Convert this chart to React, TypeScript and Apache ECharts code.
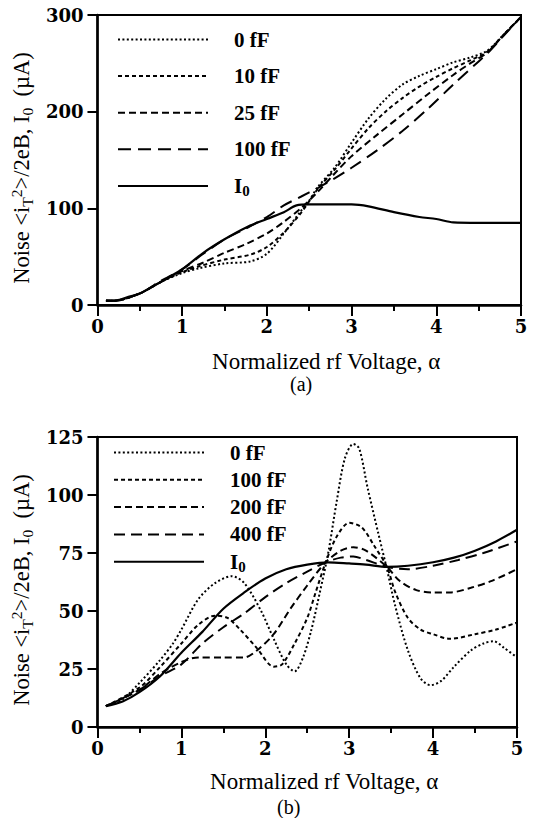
import React, { useEffect, useRef } from "react";
import * as echarts from "echarts";

const FONT = '"Liberation Serif", "Times New Roman", serif';
const TICKFONT = '"DejaVu Serif", "Liberation Serif", serif';

// ---------- Panel (a) ----------
const aLegend = ["0 fF", "10 fF", "25 fF", "100 fF", "I0"];
const aI0: number[][] = [[0.1, 4.5], [0.2, 4.5], [0.35, 8], [0.5, 12], [0.75, 24], [1.0, 37], [1.25, 54], [1.5, 68], [1.75, 80], [2.0, 89], [2.2, 96], [2.35, 103], [2.5, 104], [2.75, 104], [3.0, 104], [3.2, 102], [3.5, 96], [3.8, 91], [4.0, 89], [4.2, 85.5], [4.5, 85], [5.0, 85]];
const a0fF: number[][] = [[0.1, 4.5], [0.2, 4.5], [0.5, 12], [0.75, 24], [1.0, 33], [1.2, 38], [1.5, 43], [1.8, 45], [2.0, 53], [2.2, 74], [2.4, 97], [2.5, 108], [2.6, 122], [2.8, 142], [3.0, 168], [3.2, 193], [3.4, 213], [3.6, 228], [3.8, 237], [4.0, 244], [4.2, 251], [4.4, 256], [4.6, 263], [4.8, 280], [5.0, 298]];
const a10fF: number[][] = [[0.1, 4.5], [0.2, 4.5], [0.5, 12], [0.75, 24], [1.0, 34], [1.2, 40], [1.5, 47], [1.8, 52], [2.0, 60], [2.2, 75], [2.4, 95], [2.6, 120], [2.8, 140], [3.0, 162], [3.2, 183], [3.4, 200], [3.6, 214], [3.8, 226], [4.0, 236], [4.2, 245], [4.4, 253], [4.6, 262], [4.8, 280], [5.0, 298]];
const a25fF: number[][] = [[0.1, 4.5], [0.2, 4.5], [0.5, 12], [0.75, 24], [1.0, 35], [1.25, 44], [1.5, 54], [1.75, 63], [2.0, 74], [2.2, 86], [2.4, 100], [2.6, 117], [2.8, 136], [3.0, 154], [3.3, 176], [3.6, 197], [3.9, 218], [4.2, 238], [4.4, 250], [4.6, 261], [4.8, 280], [5.0, 298]];
const a100fF: number[][] = [[0.1, 4.5], [0.2, 4.5], [0.5, 12], [0.75, 25], [1.0, 37], [1.25, 53], [1.5, 68], [1.75, 79], [2.0, 91], [2.2, 103], [2.4, 112], [2.6, 121], [2.8, 131], [3.0, 142], [3.3, 160], [3.6, 180], [3.9, 203], [4.2, 228], [4.5, 252], [4.6, 260], [4.8, 279], [5.0, 298]];
const aYTicks = { min: 0, max: 300, interval: 100 };

// ---------- Panel (b) ----------
const bLegend = ["0 fF", "100 fF", "200 fF", "400 fF", "I0"];
const bI0: number[][] = [[0.1, 9], [0.3, 11], [0.5, 15], [0.75, 22], [1.0, 32], [1.25, 41], [1.5, 51], [1.75, 58], [2.0, 64], [2.25, 68], [2.5, 70], [2.75, 71], [3.0, 70.5], [3.2, 70], [3.45, 69], [3.7, 69.5], [4.0, 71], [4.25, 73], [4.5, 76], [4.75, 80], [5.0, 85]];
const b0fF: number[][] = [[0.1, 9], [0.3, 12], [0.5, 19], [0.75, 29], [0.9, 36], [1.0, 42], [1.2, 55], [1.4, 62], [1.6, 65], [1.75, 62], [1.95, 50], [2.1, 38], [2.25, 27], [2.35, 24], [2.45, 30], [2.55, 42], [2.65, 58], [2.75, 75], [2.85, 97], [2.95, 116], [3.05, 122], [3.12, 120], [3.22, 103], [3.35, 83], [3.45, 68], [3.55, 52], [3.7, 33], [3.85, 21], [3.97, 18], [4.1, 20], [4.25, 26], [4.45, 33], [4.6, 36], [4.72, 37], [4.85, 34], [5.0, 30]];
const b100fF: number[][] = [[0.1, 9], [0.5, 17], [0.75, 26], [1.0, 36], [1.2, 44], [1.4, 48], [1.55, 47], [1.7, 42], [1.9, 34], [2.1, 26], [2.2, 27], [2.35, 36], [2.5, 47], [2.6, 58], [2.72, 71], [2.85, 82], [3.0, 88], [3.15, 86], [3.3, 78], [3.45, 69], [3.55, 58], [3.7, 47], [3.85, 42], [4.0, 40], [4.2, 38], [4.5, 40], [4.75, 42], [5.0, 45]];
const b200fF: number[][] = [[0.1, 9], [0.5, 16], [0.75, 23], [1.0, 28], [1.2, 30], [1.5, 30], [1.75, 30], [1.9, 33], [2.1, 40], [2.3, 51], [2.5, 61], [2.72, 71], [2.9, 76], [3.05, 77.5], [3.2, 76], [3.45, 69], [3.6, 63], [3.8, 59], [4.0, 58], [4.2, 58], [4.45, 60], [4.7, 63], [5.0, 68]];
const b400fF: number[][] = [[0.1, 9], [0.5, 16], [0.75, 22], [1.0, 27], [1.25, 36], [1.5, 43], [1.75, 49], [2.0, 56], [2.25, 62], [2.5, 67], [2.72, 71], [2.9, 73], [3.05, 73.5], [3.2, 72], [3.45, 69], [3.7, 68], [4.0, 69.5], [4.3, 72], [4.6, 75], [5.0, 80]];
const bYTicks = { min: 0, max: 125, interval: 25 };

const xTicks = { min: 0, max: 5, interval: 1 };
const xTitle = "Normalized rf Voltage, α";
const yTitle = "{n|Noise <i}{sub|T}{sup|2}{n|>/2eB, I}{sub|0}{n|  (µA)}";

const DOT = [2, 2.4];
const SHORT = [4, 3];
const MED = [7, 4];
const LONG = [11, 6];
const XLONG = [13, 7];

function App() {
  const ref = useRef<HTMLDivElement>(null);
  useEffect(() => {
    document.body.style.margin = "0";
    if (!ref.current) return;
    const chart = echarts.init(ref.current, undefined, { renderer: "svg" });

    const mkX = (gi: number, gap: number) => ({
      type: "value",
      gridIndex: gi,
      ...xTicks,
      axisLine: { show: true, onZero: false, lineStyle: { color: "#000", width: 2.5 } },
      axisTick: { show: true, inside: false, length: 11, lineStyle: { color: "#000", width: 2 } },
      minorTick: { show: true, splitNumber: 2, length: 6, lineStyle: { color: "#000", width: 2 } },
      splitLine: { show: false },
      minorSplitLine: { show: false },
      axisLabel: { fontFamily: TICKFONT, fontSize: 18, fontWeight: "bold", color: "#000", margin: 12 },
      name: xTitle,
      nameLocation: "middle",
      nameGap: gap,
      nameTextStyle: { fontFamily: FONT, fontSize: 23, lineHeight: 20, color: "#000", padding: [0, 0, 0, 34] },
    });
    const richY = {
      n: { fontFamily: FONT, fontSize: 22.5, color: "#000" },
      sub: { fontFamily: FONT, fontSize: 15.5, color: "#000", padding: [11, 0, 0, 0] },
      sup: { fontFamily: FONT, fontSize: 15.5, color: "#000", padding: [0, 0, 11, 0] },
    };
    const mkY = (gi: number, t: any, gap: number) => ({
      type: "value",
      gridIndex: gi,
      ...t,
      axisLine: { show: true, onZero: false, lineStyle: { color: "#000", width: 2.5 } },
      axisTick: { show: true, inside: false, length: 10, lineStyle: { color: "#000", width: 2 } },
      splitLine: { show: false },
      axisLabel: { fontFamily: TICKFONT, fontSize: 18, fontWeight: "bold", color: "#000", margin: 14 },
      name: yTitle,
      nameLocation: "middle",
      nameRotate: 90,
      nameGap: gap,
      nameTextStyle: { rich: richY, padding: [0, 16, 0, 0] },
    });

    const line = (name: string, data: number[][], gi: number, dash: any, width = 2) => ({
      type: "line",
      name,
      data,
      xAxisIndex: gi,
      yAxisIndex: gi,
      showSymbol: false,
      symbol: "none",
      smooth: 0.3,
      lineStyle: { color: "#000", width, type: dash, cap: "butt" },
      itemStyle: { color: "#000" },
      z: 3,
    });

    const legendRich = {
      i: { fontFamily: FONT, fontSize: 21, fontWeight: "bold", color: "#000" },
      s: { fontFamily: FONT, fontSize: 15, fontWeight: "bold", color: "#000", padding: [11, 0, 0, 0] },
    };
    const fmt = (name: string) => {
      const label = name.split(":")[1];
      return label === "I0" ? "{i|I}{s|0}" : label;
    };
    const mkLegend = (prefix: string, labels: string[], left: number, top: number, gap: number) => ({
      show: true,
      orient: "vertical",
      left,
      top,
      padding: 0,
      itemWidth: 90,
      itemHeight: 14,
      itemGap: gap,
      selectedMode: false,
      itemStyle: { opacity: 0, color: "transparent", borderWidth: 0 },
      data: labels.map((l) => prefix + ":" + l),
      formatter: fmt,
      textStyle: {
        fontFamily: FONT,
        fontSize: 21,
        fontWeight: "bold",
        color: "#000",
        lineHeight: 20,
        padding: [0, 0, 0, 21],
        rich: legendRich,
      },
    });

    chart.setOption({
      animation: false,
      backgroundColor: "#fff",
      grid: [
        { left: 97, top: 15, width: 424, height: 290, show: true, borderColor: "#000", borderWidth: 2, backgroundColor: "transparent" },
        { left: 93, top: 437, width: 424, height: 290, show: true, borderColor: "#000", borderWidth: 2, backgroundColor: "transparent" },
      ],
      xAxis: [mkX(0, 46), mkX(1, 44)],
      yAxis: [mkY(0, aYTicks, 62), mkY(1, bYTicks, 57)],
      legend: [
        mkLegend("a", aLegend, 117, 29, 15.6),
        mkLegend("b", bLegend, 113, 442, 6.3),
      ],
      series: [
        line("a:0 fF", a0fF, 0, DOT, 2),
        line("a:10 fF", a10fF, 0, SHORT, 2),
        line("a:25 fF", a25fF, 0, MED, 2),
        line("a:100 fF", a100fF, 0, XLONG, 2),
        line("a:I0", aI0, 0, "solid", 2.2),
        line("b:0 fF", b0fF, 1, DOT, 2),
        line("b:100 fF", b100fF, 1, SHORT, 2),
        line("b:200 fF", b200fF, 1, MED, 2),
        line("b:400 fF", b400fF, 1, LONG, 2),
        line("b:I0", bI0, 1, "solid", 2.2),
      ],
      graphic: [
        { type: "text", left: 290, top: 374, style: { text: "(a)", font: `20px ${FONT}`, lineHeight: 18, fill: "#000" } },
        { type: "text", left: 277, top: 797, style: { text: "(b)", font: `20px ${FONT}`, lineHeight: 18, fill: "#000" } },
      ],
    });
    return () => chart.dispose();
  }, []);
  return <div ref={ref} style={{ width: 551, height: 818 }} />;
}

export default App;
